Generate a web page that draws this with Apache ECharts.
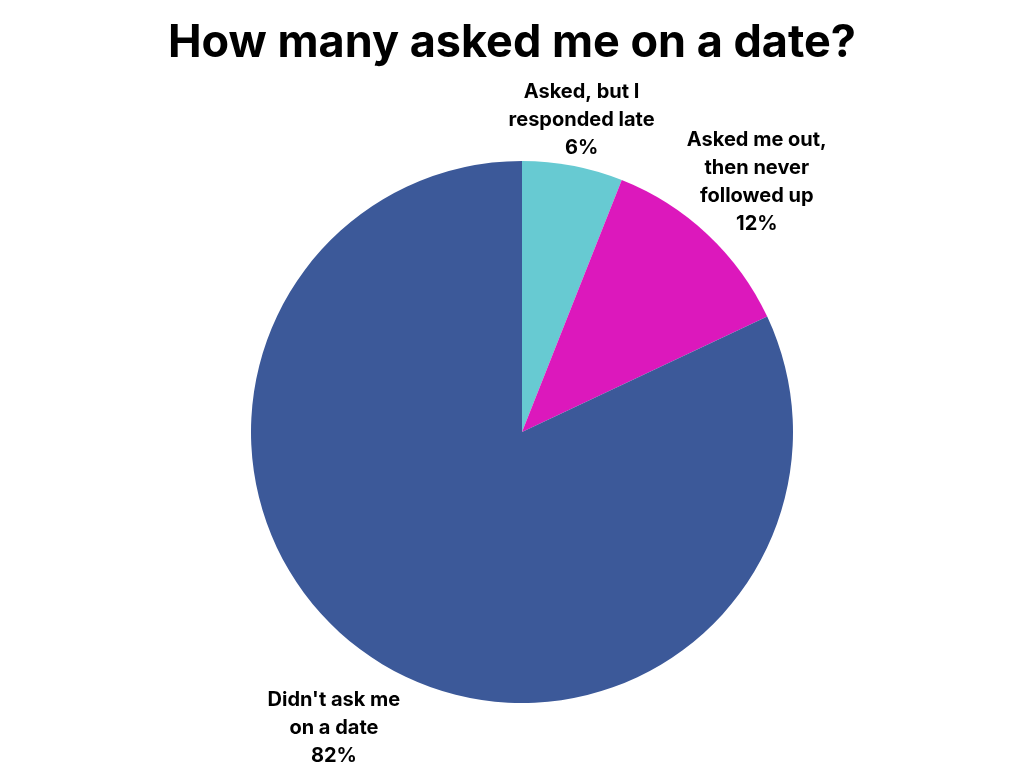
<!DOCTYPE html>
<html>
<head>
<meta charset="utf-8">
<script src="https://cdn.jsdelivr.net/npm/echarts@6/dist/echarts.min.js"></script>
<style>
html,body{margin:0;padding:0;background:#ffffff;}
#chart{width:1024px;height:768px;}
</style>
</head>
<body>
<div id="chart"></div>
<script>
const titleText = "How many asked me on a date?";
const categories = ["Asked, but I\nresponded late", "Asked me out,\nthen never\nfollowed up", "Didn't ask me\non a date"];
const values = [6, 12, 82];
const colors = ["#67CAD2", "#DC18BC", "#3C5999"];
const labelLengths = [47, 72, 80];

const chart = echarts.init(document.getElementById('chart'));
chart.setOption({
  backgroundColor: '#ffffff',
  animation: false,
  title: {
    text: titleText,
    left: 'center',
    top: 16,
    textStyle: { fontFamily: 'Inter', fontWeight: 'bold', fontSize: 45, color: '#000000' }
  },
  series: [{
    type: 'pie',
    center: [522, 432],
    radius: [0, 271],
    startAngle: 90,
    clockwise: true,
    avoidLabelOverlap: false,
    label: {
      show: true,
      position: 'outside',
      formatter: '{b}\n{d}%',
      fontFamily: 'Inter',
      fontWeight: 'bold',
      fontSize: 20,
      lineHeight: 28,
      color: '#000000',
      align: 'center',
      distanceToLabelLine: 0
    },
    labelLine: { show: false, length2: 0 },
    labelLayout: { align: 'center', verticalAlign: 'middle' },
    itemStyle: { borderWidth: 0 },
    data: categories.map((c, i) => ({
      name: c,
      value: values[i],
      itemStyle: { color: colors[i] },
      labelLine: { show: false, length: labelLengths[i], length2: 0 }
    }))
  }]
});
</script>
</body>
</html>
